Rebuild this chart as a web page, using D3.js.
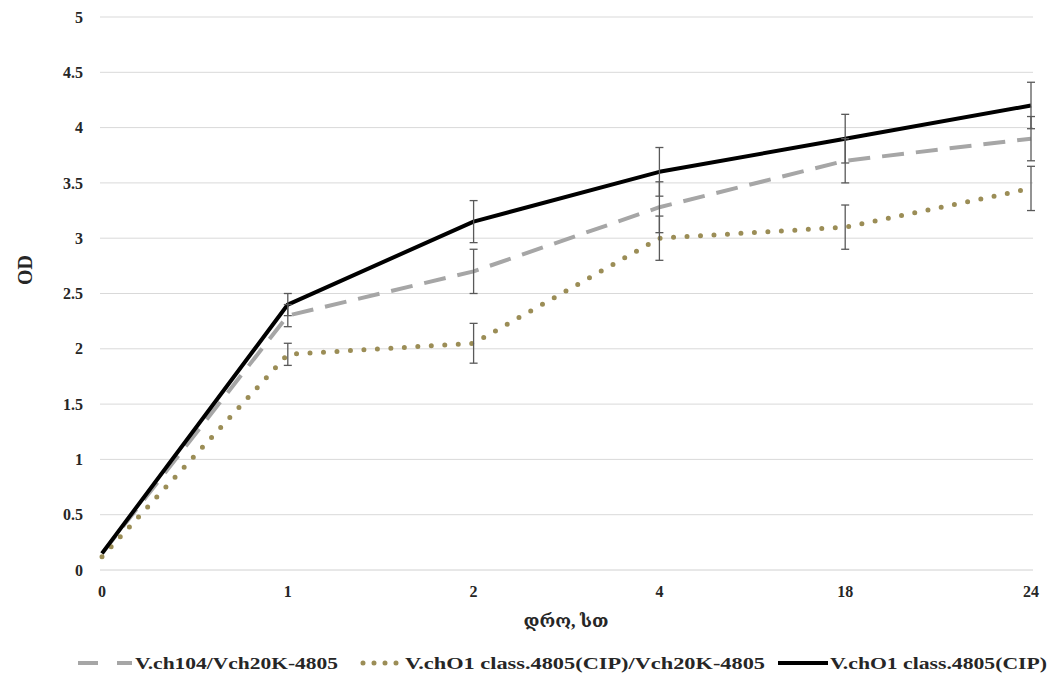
<!DOCTYPE html>
<html><head><meta charset="utf-8">
<script src="https://cdn.jsdelivr.net/npm/d3@7"></script>
<style>body{margin:0;background:#fff}</style>
</head><body><svg id="c" width="1054" height="679"></svg>
<script>
const categories = ["0","1","2","4","18","24"];
const yTicks = [0,0.5,1,1.5,2,2.5,3,3.5,4,4.5,5];
const seriesNames = ["V.ch104/Vch20K-4805","V.chO1 class.4805(CIP)/Vch20K-4805","V.chO1 class.4805(CIP)"];
const grayValues  = [0.15, 2.30, 2.70, 3.28, 3.70, 3.90];
const grayErr     = [0,    0.10, 0.20, 0.23, 0.20, 0.20];
const goldValues  = [0.12, 1.95, 2.05, 3.00, 3.10, 3.45];
const goldErr     = [0,    0.10, 0.18, 0.20, 0.20, 0.20];
const blackValues = [0.15, 2.40, 3.15, 3.60, 3.90, 4.20];
const blackErr    = [0,    0.10, 0.19, 0.22, 0.22, 0.21];
const xLabel = "დრო, სთ";
const yLabel = "OD";

const svg = d3.select("#c");
const font = "'Liberation Serif','DejaVu Serif',serif";
const x = d3.scalePoint().domain(categories).range([102,1031]);
const y = d3.scaleLinear().domain([0,5]).range([570,17]);

// grid
svg.append("g").selectAll("line").data(yTicks).join("line")
  .attr("x1",100).attr("x2",1033).attr("y1",d=>y(d)).attr("y2",d=>y(d))
  .attr("stroke",d=>d===0?"#d0d0d0":"#d9d9d9").attr("stroke-width",1);

// y tick labels
svg.append("g").selectAll("text").data(yTicks).join("text")
  .attr("x",83).attr("y",d=>y(d)).attr("dy","0.35em").attr("text-anchor","end")
  .attr("font-family",font).attr("font-weight","bold").attr("font-size",16).attr("fill","#262626")
  .text(d=>d);
// x tick labels
svg.append("g").selectAll("text").data(categories).join("text")
  .attr("x",d=>x(d)).attr("y",597).attr("text-anchor","middle")
  .attr("font-family",font).attr("font-weight","bold").attr("font-size",16).attr("fill","#262626")
  .text(d=>d);

svg.append("text").attr("transform","translate(32,270) rotate(-90)").attr("text-anchor","middle")
  .attr("font-family",font).attr("font-weight","bold").attr("font-size",20).attr("fill","#262626").text(yLabel);
svg.append("text").attr("x",566).attr("y",627).attr("text-anchor","middle")
  .attr("font-family",font).attr("font-weight","bold").attr("font-size",18).attr("fill","#262626").text(xLabel);

const series = [
  {name:seriesNames[0], v:grayValues, e:grayErr, color:"#a6a6a6", w:4, dash:"22,12", cap:"butt"},
  {name:seriesNames[1], v:goldValues, e:goldErr, color:"#9b8d56", w:5, dash:"0,13.5", cap:"round"},
  {name:seriesNames[2], v:blackValues, e:blackErr, color:"#000", w:4, dash:null, cap:"butt"}
];
const line = d3.line().x((d,i)=>x(categories[i])).y(d=>y(d));
series.forEach(s=>{
  svg.append("path").datum(s.v).attr("d",line).attr("fill","none")
    .attr("stroke",s.color).attr("stroke-width",s.w).attr("stroke-linecap",s.cap)
    .attr("stroke-linejoin","round").attr("stroke-dasharray",s.dash);
});
// error bars
series.forEach(s=>{
  const g = svg.append("g").attr("stroke","#595959").attr("stroke-width",1.3);
  s.v.forEach((v,i)=>{
    if(!s.e[i]) return;
    const cx = x(categories[i]);
    g.append("line").attr("x1",cx).attr("x2",cx).attr("y1",y(v+s.e[i])).attr("y2",y(v-s.e[i]));
    [v+s.e[i], v-s.e[i]].forEach(t=>g.append("line").attr("x1",cx-4).attr("x2",cx+4).attr("y1",y(t)).attr("y2",y(t)));
  });
});

// legend
const leg = [
  {s:series[0], x1:78, x2:132, tx:135, tw:203, da:"20,19,15,100"},
  {s:series[1], x1:363, x2:400, tx:405, tw:360, da:"0,11"},
  {s:series[2], x1:778, x2:828, tx:830, tw:217, da:null}
];
leg.forEach(l=>{
  svg.append("line").attr("x1",l.x1).attr("x2",l.x2).attr("y1",663).attr("y2",663)
    .attr("stroke",l.s.color).attr("stroke-width",l.s.w).attr("stroke-linecap",l.s.cap)
    .attr("stroke-dasharray",l.da);
  svg.append("text").attr("x",l.tx).attr("y",663).attr("dy","0.35em")
    .attr("font-family",font).attr("font-weight","bold").attr("font-size",17).attr("fill","#262626")
    .attr("textLength",l.tw).attr("lengthAdjust","spacingAndGlyphs")
    .text(l.s.name);
});
</script></body></html>
